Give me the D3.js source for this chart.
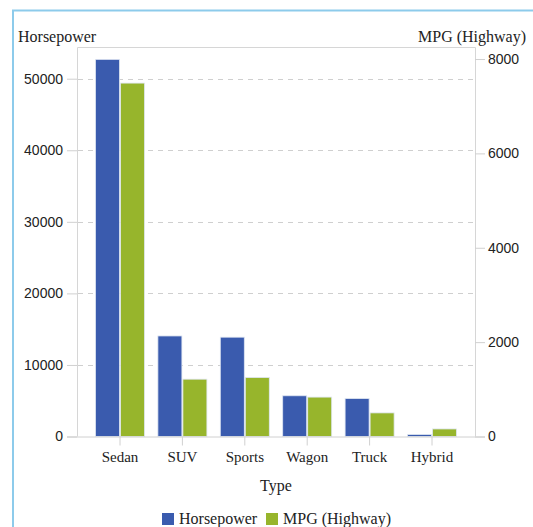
<!DOCTYPE html>
<html><head><meta charset="utf-8">
<script src="https://cdn.jsdelivr.net/npm/d3@7"></script>
<style>body{margin:0;background:#fff;}svg{display:block;font-family:"Liberation Serif","DejaVu Serif",serif;}</style>
</head><body>
<script>
const categories = ["Sedan","SUV","Sports","Wagon","Truck","Hybrid"];
const horsepower = [52700, 14050, 13880, 5690, 5300, 276];
const mpgHighway = [7490, 1215, 1250, 835, 500, 160];
const leftTicks = [0,10000,20000,30000,40000,50000];
const rightTicks = [0,2000,4000,6000,8000];
const seriesNames = ["Horsepower","MPG (Highway)"];
const colors = ["#3A5BAE","#97B52C"];

const W=533,H=527;
const svg=d3.select("body").append("svg").attr("width",W).attr("height",H);
// outer border
svg.append("rect").attr("x",13).attr("y",10.5).attr("width",W+20).attr("height",H+20)
  .attr("fill","none").attr("stroke","#8DCBEB").attr("stroke-width",2);

const L=77,R=475,T=47,B=436.5;
const yL=d3.scaleLinear().domain([0,54430]).range([B,T]);
const yR=d3.scaleLinear().domain([0,8255]).range([B,T]);
const x=d3.scaleBand().domain(categories).range([L+11.8,R-11.8]).paddingInner(0).paddingOuter(0);
const xs=d3.scaleBand().domain([0,1]).range([0,x.bandwidth()]).paddingOuter(0.268).paddingInner(0.04);

// gridlines
svg.append("g").selectAll("line").data(leftTicks.filter(d=>d>0)).join("line")
  .attr("x1",L+1).attr("x2",R-1).attr("y1",d=>Math.round(yL(d))+0.5).attr("y2",d=>Math.round(yL(d))+0.5)
  .attr("stroke","#cfcfcf").attr("stroke-dasharray","5,5");

// frame
svg.append("path").attr("d",`M${L+0.5},${B}V${T+0.5}H${R+0.5}V${B}`).attr("fill","none").attr("stroke","#d6d6d6");

// bars
const g=svg.append("g");
categories.forEach((c,i)=>{
  [horsepower[i],mpgHighway[i]].forEach((v,j)=>{
    const sc=j===0?yL:yR;
    g.append("rect").attr("x",x(c)+xs(j)).attr("width",xs.bandwidth())
      .attr("y",sc(v)).attr("height",B-sc(v))
      .attr("fill",colors[j]).attr("stroke","#dfe6f2").attr("stroke-width",0.8);
  });
});

// left axis
const la=svg.append("g").attr("transform",`translate(${L},0)`)
  .call(d3.axisLeft(yL).tickValues(leftTicks).tickSize(10).tickPadding(4).tickFormat(d3.format("d")));
la.select(".domain").remove();
la.selectAll("line").attr("stroke","#d0d0d0");
la.selectAll("text").attr("fill","#222").attr("font-family","Liberation Sans, sans-serif").attr("font-size",14);

// right axis
const ra=svg.append("g").attr("transform",`translate(${R},0)`)
  .call(d3.axisRight(yR).tickValues(rightTicks).tickSize(10).tickPadding(3).tickFormat(d3.format("d")));
ra.select(".domain").remove();
ra.selectAll("line").attr("stroke","#d0d0d0");
ra.selectAll("text").attr("fill","#222").attr("font-family","Liberation Sans, sans-serif").attr("font-size",14);

// zero baseline
svg.append("line").attr("x1",67).attr("x2",485).attr("y1",B+0.5).attr("y2",B+0.5).attr("stroke","#d0d0d0");

// bottom axis
const ba=svg.append("g").attr("transform",`translate(0,${B})`)
  .call(d3.axisBottom(x).tickSize(9).tickPadding(6));
ba.select(".domain").remove();
ba.selectAll("line").attr("stroke","#d0d0d0");
ba.selectAll("text").attr("font-size",15).attr("fill","#222").attr("font-family","Liberation Serif, serif");

// axis titles
svg.append("text").attr("x",18).attr("y",42).attr("font-size",16).attr("fill","#222").text("Horsepower");
svg.append("text").attr("x",526).attr("y",42).attr("text-anchor","end").attr("font-size",16).attr("fill","#222").text("MPG (Highway)");
svg.append("text").attr("x",276).attr("y",491).attr("text-anchor","middle").attr("font-size",16).attr("fill","#222").text("Type");

// legend
const lg=svg.append("g");
const lx=[162,266];
seriesNames.forEach((n,i)=>{
  lg.append("rect").attr("x",lx[i]).attr("y",513).attr("width",12).attr("height",12).attr("fill",colors[i]);
  lg.append("text").attr("x",lx[i]+17).attr("y",524).attr("font-size",16).attr("fill","#222").text(n);
});
</script>
</body></html>
